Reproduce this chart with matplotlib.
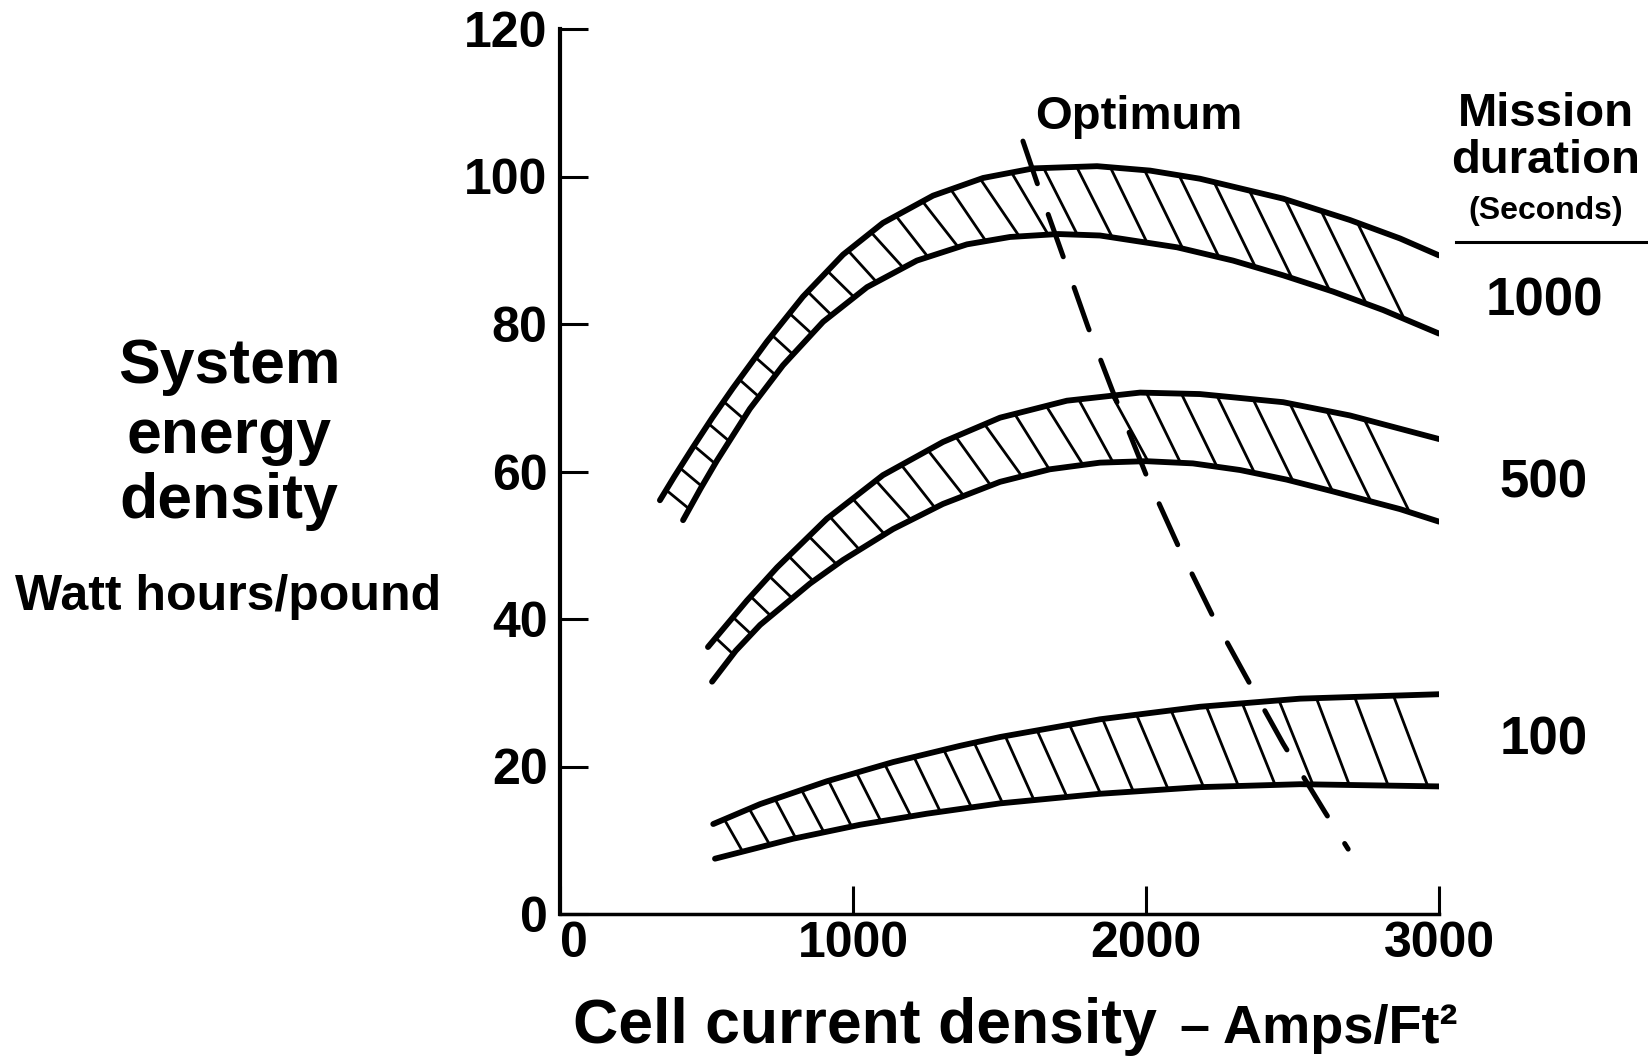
import numpy as np
import matplotlib.pyplot as plt
from matplotlib.lines import Line2D

plt.rcParams['font.family'] = ['Liberation Sans', 'DejaVu Sans']
plt.rcParams['font.weight'] = 'bold'

# band edges: cell current density (A/ft²) vs energy density (Wh/lb)
b1000_up_x = [341, 390, 454, 520, 590, 706, 829, 966, 1102, 1273, 1444, 1615, 1833, 2014, 2184, 2468, 2696, 2867, 3000]
b1000_up_y = [56.1, 59.3, 63.3, 67.3, 71.3, 77.6, 83.7, 89.4, 93.7, 97.4, 99.8, 101.1, 101.4, 100.8, 99.7, 97.0, 94.1, 91.6, 89.3]
b1000_lo_x = [420, 480, 536, 648, 761, 898, 1048, 1218, 1389, 1536, 1700, 1843, 2106, 2297, 2468, 2638, 2809, 3000]
b1000_lo_y = [53.4, 57.7, 61.5, 68.5, 74.4, 80.3, 85.0, 88.6, 90.8, 91.8, 92.2, 92.0, 90.4, 88.6, 86.6, 84.4, 81.9, 78.7]

b500_up_x = [505, 638, 741, 911, 1102, 1307, 1502, 1730, 1980, 2184, 2468, 2696, 3000]
b500_up_y = [36.2, 42.5, 47.0, 53.6, 59.5, 64.0, 67.3, 69.6, 70.7, 70.5, 69.4, 67.6, 64.4]
b500_lo_x = [519, 600, 683, 853, 966, 1137, 1307, 1502, 1672, 1843, 2000, 2160, 2321, 2480, 2638, 2867, 3000]
b500_lo_y = [31.5, 35.7, 39.2, 44.8, 48.0, 52.2, 55.6, 58.6, 60.3, 61.2, 61.4, 61.1, 60.2, 58.9, 57.3, 54.9, 53.2]

b100_up_x = [523, 683, 911, 1137, 1365, 1502, 1843, 2184, 2526, 3000]
b100_up_y = [12.2, 14.9, 18.0, 20.6, 22.8, 24.0, 26.4, 28.1, 29.2, 29.8]
b100_lo_x = [529, 795, 1024, 1252, 1502, 1843, 2184, 2526, 3000]
b100_lo_y = [7.5, 10.2, 12.1, 13.6, 15.0, 16.3, 17.2, 17.6, 17.3]

# dashed "Optimum" locus
opt_x = [1580, 1638, 1724, 1802, 1887, 2003, 2109, 2229, 2338, 2468, 2611, 2690]
opt_y = [104.8, 98.0, 88.4, 79.6, 70.8, 59.3, 50.0, 40.3, 32.4, 23.1, 13.8, 8.8]

durations = ["1000", "500", "100"]
duration_y = [83.1, 58.4, 23.5]

# (upper x, upper y, lower x, lower y, hatch base angle)
bands = [
    (b1000_up_x, b1000_up_y, b1000_lo_x, b1000_lo_y, -64.0),
    (b500_up_x, b500_up_y, b500_lo_x, b500_lo_y, -64.0),
    (b100_up_x, b100_up_y, b100_lo_x, b100_lo_y, -70.0),
]

W, H = 1648, 1056
fig = plt.figure(figsize=(W / 100, H / 100), dpi=100)
ax = fig.add_axes([560 / W, 1 - 914 / H, (1439 - 560) / W, (914 - 29) / H])
ax.set_xlim(0, 3000)
ax.set_ylim(0, 120)


def hatch_band(ax, ux, uy, lx, ly, base=-66.0, k=0.42):
    # hand-drawn style hatching: strokes from the upper edge down to the lower edge
    T = ax.transData
    inv = T.inverted()
    U = T.transform(np.column_stack([ux, uy]))
    L = T.transform(np.column_stack([lx, ly]))
    seg = np.diff(U, axis=0)
    seglen = np.hypot(seg[:, 0], seg[:, 1])
    cum = np.concatenate([[0], np.cumsum(seglen)])
    s = 12.0
    while s < cum[-1]:
        i = min(np.searchsorted(cum, s, side='right') - 1, len(seg) - 1)
        P = U[i] + (s - cum[i]) / seglen[i] * seg[i]
        a = np.degrees(np.arctan2(seg[i, 1], seg[i, 0]))
        th = np.radians(base + k * max(a, 0))
        d = np.array([np.cos(th), np.sin(th)])
        best = None
        for j in range(len(L) - 1):
            e = L[j + 1] - L[j]
            M = np.array([[d[0], -e[0]], [d[1], -e[1]]])
            if abs(np.linalg.det(M)) < 1e-9:
                continue
            t, u = np.linalg.solve(M, L[j] - P)
            if t > 0 and 0 <= u <= 1 and (best is None or t < best):
                best = t
        if best is not None and best < 160:
            (x0, y0), (x1, y1) = inv.transform([P, P + best * d])
            ax.plot([x0, x1], [y0, y1], color='black', lw=2.0, solid_capstyle='round')
        xd = inv.transform(P)[0]
        s += 24 + 0.0055 * xd


for ux, uy, lx, ly, base in bands:
    ax.plot(ux, uy, color='black', lw=4.2, solid_capstyle='round', solid_joinstyle='round')
    ax.plot(lx, ly, color='black', lw=4.2, solid_capstyle='round', solid_joinstyle='round')
    hatch_band(ax, ux, uy, lx, ly, base=base)

ax.plot(opt_x, opt_y, color='black', lw=3.6, linestyle=(0, (9, 6.5)),
        dash_capstyle='round')
ax.text(1621, 106.4, "Optimum", fontsize=34, va='baseline', ha='left')

for lab, y in zip(durations, duration_y):
    ax.text(3358, y, lab, fontsize=38, ha='center', va='center', clip_on=False)

ax.spines['top'].set_visible(False)
ax.spines['right'].set_visible(False)
ax.spines['left'].set_linewidth(3.0)
ax.spines['bottom'].set_linewidth(2.5)
ax.set_xticks([0, 1000, 2000, 3000])
ax.set_yticks([0, 20, 40, 60, 80, 100, 120])
ax.tick_params(direction='in', length=20, width=2.2, labelsize=36)
ax.tick_params(axis='y', pad=9)
ax.tick_params(axis='x', pad=5)
ax.get_xticklabels()[0].set_horizontalalignment('left')

# y label block
fig.text(229 / W, 1 - 383 / H, "System", fontsize=45, ha='center', va='baseline')
fig.text(229 / W, 1 - 453 / H, "energy", fontsize=45, ha='center', va='baseline')
fig.text(229 / W, 1 - 518 / H, "density", fontsize=45, ha='center', va='baseline')
fig.text(228 / W, 1 - 610 / H, "Watt hours/pound", fontsize=36, ha='center', va='baseline')

# x label
fig.text(573 / W, 1 - 1043 / H, "Cell current density", fontsize=45, ha='left', va='baseline')
fig.text(1180 / W, 1 - 1043 / H, "– Amps/Ft²", fontsize=39, ha='left', va='baseline')

# legend heading on the right
fig.text(1546 / W, 1 - 126 / H, "Mission", fontsize=34, ha='center', va='baseline')
fig.text(1546 / W, 1 - 173 / H, "duration", fontsize=34, ha='center', va='baseline')
fig.text(1546 / W, 1 - 219 / H, "(Seconds)", fontsize=23, ha='center', va='baseline')
fig.add_artist(Line2D([1456 / W, 1.0], [1 - 242 / H, 1 - 242 / H], lw=2.2, color='black'))

fig.savefig("out.png", dpi=100)
